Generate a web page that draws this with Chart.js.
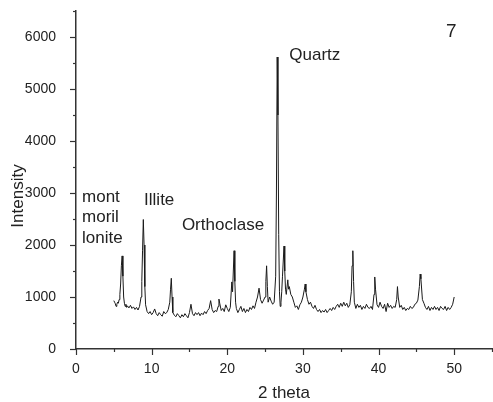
<!DOCTYPE html>
<html>
<head>
<meta charset="utf-8">
<script src="https://cdn.jsdelivr.net/npm/chart.js@4/dist/chart.umd.min.js"></script>
<style>
  body { margin: 0; background: #fff; }
  canvas { display: block; }
</style>
</head>
<body>
<canvas id="myChart" width="493" height="402"></canvas>
<script>
// 2 theta positions (degrees)
const twoTheta = [
  5.0, 5.1, 5.2, 5.3, 5.4, 5.5, 5.6, 5.7, 5.8, 5.9, 6.0, 6.1, 6.2, 6.3, 6.4, 6.5, 6.6, 6.7, 6.8,
  7.0, 7.2, 7.4, 7.6, 7.8, 8.0, 8.2, 8.4, 8.6, 8.7, 8.8, 8.9, 9.0, 9.1, 9.2, 9.4, 9.6, 9.8,
  10.0, 10.2, 10.4, 10.6, 10.8, 11.0, 11.2, 11.4, 11.6, 11.8, 12.0, 12.2, 12.4, 12.5, 12.6, 12.7, 12.8,
  13.0, 13.2, 13.4, 13.6, 13.8, 14.0, 14.2, 14.4, 14.6, 14.8, 15.0, 15.2, 15.4, 15.6, 15.8,
  16.0, 16.2, 16.4, 16.6, 16.8, 17.0, 17.2, 17.4, 17.6, 17.8, 18.0, 18.2, 18.4, 18.6, 18.8, 18.9,
  19.0, 19.2, 19.4, 19.6, 19.8, 20.0, 20.2, 20.4, 20.6, 20.7, 20.8, 20.9, 21.0, 21.1, 21.2, 21.4,
  21.6, 21.8, 22.0, 22.2, 22.4, 22.6, 22.8, 23.0, 23.2, 23.4, 23.6, 23.8, 24.0, 24.2, 24.4, 24.6,
  24.8, 25.0, 25.1, 25.2, 25.3, 25.4, 25.6, 25.8, 26.0, 26.2, 26.4, 26.5, 26.6, 26.7, 26.8, 26.9,
  27.0, 27.1, 27.2, 27.3, 27.5, 27.6, 27.7, 27.8, 28.0, 28.1, 28.2, 28.4, 28.6, 28.8, 29.0, 29.2,
  29.4, 29.6, 29.8, 30.0, 30.2, 30.3, 30.4, 30.6, 30.8, 31.0, 31.2, 31.4, 31.6, 31.8, 32.0, 32.2,
  32.4, 32.6, 32.8, 33.0, 33.2, 33.4, 33.6, 33.8, 34.0, 34.2, 34.4, 34.6, 34.8, 35.0, 35.2, 35.4,
  35.6, 35.8, 36.0, 36.2, 36.4, 36.5, 36.6, 36.7, 36.8, 37.0, 37.2, 37.4, 37.6, 37.8, 38.0, 38.2,
  38.4, 38.6, 38.8, 39.0, 39.2, 39.4, 39.5, 39.6, 39.8, 40.0, 40.2, 40.4, 40.6, 40.8, 41.0, 41.2,
  41.4, 41.6, 41.8, 42.0, 42.2, 42.4, 42.5, 42.6, 42.8, 43.0, 43.2, 43.4, 43.6, 43.8, 44.0, 44.2,
  44.4, 44.6, 44.8, 45.0, 45.2, 45.4, 45.5, 45.6, 45.8, 46.0, 46.2, 46.4, 46.6, 46.8, 47.0, 47.2,
  47.4, 47.6, 47.8, 48.0, 48.2, 48.4, 48.6, 48.8, 49.0, 49.2, 49.4, 49.6, 49.8, 50.0
];
// measured intensity (counts)
const intensity = [
  930, 900, 870, 820, 860, 900, 880, 950, 1050, 1250, 1600, 1790, 1400, 1000, 880, 820, 860, 800, 830,
  790, 840, 780, 810, 760, 800, 750, 820, 1000, 1300, 1900, 2490, 2000, 1200, 850, 720, 680, 720,
  660, 700, 770, 680, 640, 700, 660, 630, 720, 680, 700, 760, 900, 1150, 1360, 1000, 700,
  650, 620, 680, 640, 600, 660, 620, 680, 640, 600, 700, 860, 680, 640, 700,
  660, 700, 640, 690, 660, 720, 680, 740, 780, 930, 760, 700, 740, 720, 820, 960,
  880, 740, 780, 720, 850, 780, 720, 800, 1290, 1100, 1500, 1890, 1300, 900, 780, 700,
  760, 820, 720, 780, 700, 760, 720, 800, 760, 830, 780, 900, 1000, 1170, 950, 880,
  940, 1000, 1300, 1600, 1200, 900, 1000, 920, 860, 900, 1400, 3000, 5615, 4500, 2200, 1100,
  820, 900, 1100, 1400, 1980, 1500, 1150, 1050, 1330, 1150, 1200, 1050, 1000, 900, 800, 830,
  760, 850, 900, 1000, 1150, 1250, 1100, 950, 860, 900, 820, 780, 840, 760, 720, 760,
  700, 740, 710, 760, 700, 740, 780, 740, 800, 760, 820, 860, 800, 880, 820, 900,
  830, 880, 800, 850, 1100, 1600, 1890, 1300, 900, 780, 860, 800, 840, 760, 820, 780,
  860, 800, 780, 820, 760, 1050, 1385, 1150, 850, 800, 900, 820, 780, 860, 720, 880,
  800, 840, 780, 820, 800, 950, 1200, 1000, 800, 840, 760, 800, 740, 780, 760, 820,
  780, 800, 860, 880, 940, 1200, 1440, 1350, 950, 880, 800, 760, 820, 740, 800, 760,
  820, 760, 800, 740, 820, 780, 760, 820, 740, 800, 760, 800, 860, 1000
];
// phase labels [text, 2theta, intensity]
const phaseLabels = [
  ["mont", 0.8, 2920],
  ["moril", 0.8, 2530],
  ["lonite", 0.8, 2130],
  ["Illite", 9.0, 2860],
  ["Orthoclase", 14.0, 2370],
  ["Quartz", 28.2, 5650]
];
const panelLabel = "7";

const points = twoTheta.map((t, i) => ({ x: t, y: intensity[i] }));

const INK = "#222";
const FONT = "'Liberation Sans', Arial, sans-serif";

// tick marks, axis titles and labels
const decorPlugin = {
  id: "decor",
  afterDraw(chart) {
    const c = chart.ctx;
    const xs = chart.scales.x, ys = chart.scales.y;
    const ca = chart.chartArea;
    c.save();
    c.strokeStyle = "#333";
    c.lineWidth = 1.2;
    for (let v = 0; v <= 6500; v += 500) {
      const py = Math.round(ys.getPixelForValue(v)) + 0.5;
      const len = v % 1000 === 0 ? 6 : 3;
      c.beginPath();
      c.moveTo(ca.left - len, py);
      c.lineTo(ca.left, py);
      c.stroke();
    }
    for (let v = 0; v <= 55; v += 5) {
      const px = Math.round(xs.getPixelForValue(v)) + 0.5;
      const len = v % 10 === 0 ? 6 : 3;
      c.beginPath();
      c.moveTo(px, ca.bottom);
      c.lineTo(px, ca.bottom + len);
      c.stroke();
    }
    c.fillStyle = INK;
    c.font = "17px " + FONT;
    c.textBaseline = "middle";
    c.textAlign = "center";
    c.fillText("2 theta", (ca.left + ca.right) / 2, 393);
    c.save();
    c.translate(18, 196);
    c.rotate(-Math.PI / 2);
    c.fillText("Intensity", 0, 0);
    c.restore();
    c.textAlign = "left";
    phaseLabels.forEach(([txt, t, v]) => {
      c.fillText(txt, xs.getPixelForValue(t), ys.getPixelForValue(v));
    });
    c.font = "19px " + FONT;
    c.fillText(panelLabel, 446, 32);
    c.restore();
  }
};

const ctx = document.getElementById("myChart").getContext("2d");
const myChart = new Chart(ctx, {
  type: "line",
  data: {
    datasets: [{
      data: points,
      borderColor: "#1a1a1a",
      borderWidth: 1,
      pointRadius: 0,
      tension: 0
    }]
  },
  options: {
    responsive: false,
    animation: false,
    layout: { padding: { top: 11, right: 1, left: 0, bottom: 0 } },
    plugins: { legend: { display: false }, tooltip: { enabled: false } },
    scales: {
      x: {
        type: "linear",
        min: 0,
        max: 55,
        grid: { display: false },
        border: { color: "#333", width: 1.5 },
        ticks: { stepSize: 10, includeBounds: false, padding: 4, color: INK, font: { size: 14, family: FONT } },
        afterFit(s) { s.height = 53; s.paddingLeft = 0; s.paddingRight = 0; }
      },
      y: {
        min: 0,
        max: 6500,
        grid: { display: false },
        border: { color: "#333", width: 1.5 },
        ticks: {
          stepSize: 500,
          padding: 12,
          color: INK,
          font: { size: 14, family: FONT },
          callback: (v) => (v % 1000 === 0 ? String(v) : "")
        },
        afterFit(s) { s.width = 76; s.paddingTop = 0; s.paddingBottom = 0; }
      }
    }
  },
  plugins: [decorPlugin]
});
</script>
</body>
</html>
